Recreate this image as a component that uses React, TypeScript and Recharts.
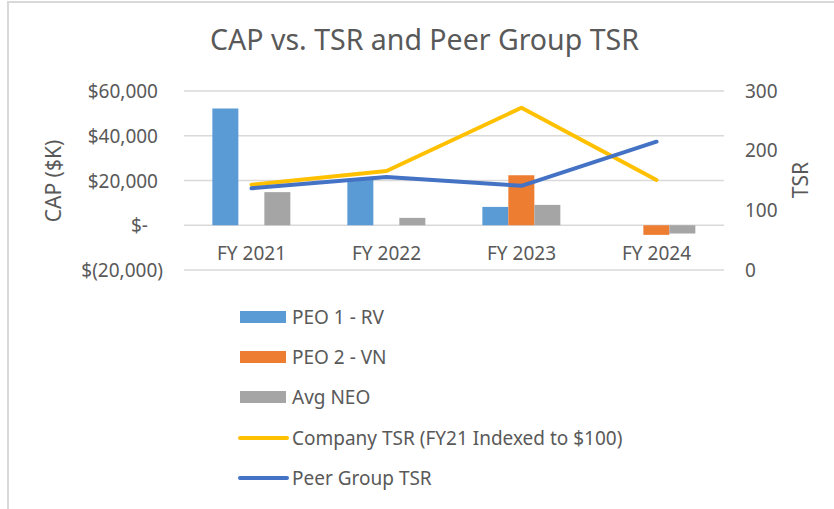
import React from "react";
import { ComposedChart, Bar, Line, XAxis, YAxis, CartesianGrid, Label } from "recharts";

const years = ["FY 2021", "FY 2022", "FY 2023", "FY 2024"];
const peo1 = [52200, 20500, 8200, null];
const peo2 = [null, null, 22400, -4300];
const avgNeo = [14800, 3300, 9100, -3700];
const companyTsr = [143, 166, 272, 151];
const peerTsr = [137, 156, 141, 215];
const capTicks = [-20000, 0, 20000, 40000, 60000];
const tsrTicks = [0, 100, 200, 300];

const data = years.map((y, i) => ({
  year: y,
  peo1: peo1[i],
  peo2: peo2[i],
  avgNeo: avgNeo[i],
  companyTsr: companyTsr[i],
  peerTsr: peerTsr[i],
}));

const legendItems = [
  { name: "PEO 1 - RV", color: "#5B9BD5", kind: "bar" },
  { name: "PEO 2 - VN", color: "#ED7D31", kind: "bar" },
  { name: "Avg NEO", color: "#A5A5A5", kind: "bar" },
  { name: "Company TSR (FY21 Indexed to $100)", color: "#FFC000", kind: "line" },
  { name: "Peer Group TSR", color: "#4472C4", kind: "line" },
];

const FONT = "'Noto Sans', sans-serif";
const TEXT = "#595959";

function fmtCap(v: number) {
  if (v === 0) return "$-";
  const s = Math.abs(v).toLocaleString("en-US");
  return v < 0 ? `$(${s})` : `$${s}`;
}

function CapTick(props: any) {
  const { x, y, payload } = props;
  const v = payload.value;
  const dx = v === 0 ? -10 : v < 0 ? 5 : 0;
  return (
    <text x={x + dx} y={y} textAnchor="end" dominantBaseline="central" fill={TEXT} fontSize={19} fontFamily={FONT}>
      {fmtCap(v)}
    </text>
  );
}

function YearTick(props: any) {
  const { x, y, payload } = props;
  return (
    <text x={x} y={y - 25} textAnchor="middle" dominantBaseline="central" fill={TEXT} fontSize={19} fontFamily={FONT}>
      {payload.value}
    </text>
  );
}

export default function App() {
  return (
    <div style={{ position: "absolute", left: 0, top: 0, width: 834, height: 509, background: "#fff", fontFamily: FONT }}>
      <div
        style={{
          position: "absolute",
          left: 7,
          top: 1,
          right: 0,
          bottom: 0,
          borderTop: "2px solid #d9d9d9",
          borderLeft: "2px solid #d9d9d9",
        }}
      />
      <div
        style={{
          position: "absolute",
          left: 0,
          width: 849,
          top: 22,
          textAlign: "center",
          fontSize: 28.5,
          color: TEXT,
          lineHeight: "34px",
        }}
      >
        CAP vs. TSR and Peer Group TSR
      </div>
      <div style={{ position: "absolute", left: 0, top: 0 }}>
        <ComposedChart
          width={834}
          height={509}
          data={data}
          margin={{ top: 91, right: 30, bottom: 209, left: 0 }}
          barCategoryGap="21%"
          barGap={0}
        >
          <CartesianGrid yAxisId="left" vertical={false} stroke="#d9d9d9" strokeWidth={1.5} />
          <XAxis dataKey="year" axisLine={false} tickLine={false} height={30} tick={<YearTick />} interval={0} />
          <YAxis
            yAxisId="left"
            width={184}
            domain={[-20000, 60000]}
            ticks={capTicks}
            axisLine={false}
            tickLine={false}
            tickSize={0}
            tickMargin={26}
            tick={<CapTick />}
            interval={0}
          >
            <Label
              content={() => (
                <text
                  x={53}
                  y={181}
                  transform="rotate(-90 53 181)"
                  textAnchor="middle"
                  dominantBaseline="central"
                  fill={TEXT}
                  fontSize={21}
                  fontFamily={FONT}
                >
                  CAP ($K)
                </text>
              )}
            />
          </YAxis>
          <YAxis
            yAxisId="right"
            orientation="right"
            width={80}
            domain={[0, 300]}
            ticks={tsrTicks}
            axisLine={false}
            tickLine={false}
            tickSize={0}
            tickMargin={21}
            tick={{ fill: TEXT, fontSize: 19, fontFamily: FONT }}
            interval={0}
          >
            <Label
              content={() => (
                <text
                  x={800}
                  y={180}
                  transform="rotate(-90 800 180)"
                  textAnchor="middle"
                  dominantBaseline="central"
                  fill={TEXT}
                  fontSize={21}
                  fontFamily={FONT}
                >
                  TSR
                </text>
              )}
            />
          </YAxis>
          <Bar yAxisId="left" dataKey="peo1" name="PEO 1 - RV" fill="#5B9BD5" isAnimationActive={false} />
          <Bar yAxisId="left" dataKey="peo2" name="PEO 2 - VN" fill="#ED7D31" isAnimationActive={false} />
          <Bar yAxisId="left" dataKey="avgNeo" name="Avg NEO" fill="#A5A5A5" isAnimationActive={false} />
          <Line
            yAxisId="right"
            dataKey="companyTsr"
            name="Company TSR (FY21 Indexed to $100)"
            stroke="#FFC000"
            strokeWidth={4}
            dot={false}
            type="linear"
            strokeLinejoin="round"
            strokeLinecap="round"
            isAnimationActive={false}
          />
          <Line
            yAxisId="right"
            dataKey="peerTsr"
            name="Peer Group TSR"
            stroke="#4472C4"
            strokeWidth={4}
            dot={false}
            type="linear"
            strokeLinejoin="round"
            strokeLinecap="round"
            isAnimationActive={false}
          />
        </ComposedChart>
      </div>
      <div style={{ position: "absolute", left: 238, top: 297 }}>
        {legendItems.map((it) => (
          <div key={it.name} style={{ display: "flex", alignItems: "center", height: 40.2 }}>
            {it.kind === "bar" ? (
              <div style={{ width: 46, height: 12, background: it.color, marginLeft: 2, marginRight: 6 }} />
            ) : (
              <div style={{ width: 51, height: 4, borderRadius: 2, background: it.color, marginRight: 3 }} />
            )}
            <span style={{ fontSize: 19, color: TEXT, whiteSpace: "nowrap" }}>{it.name}</span>
          </div>
        ))}
      </div>
    </div>
  );
}
